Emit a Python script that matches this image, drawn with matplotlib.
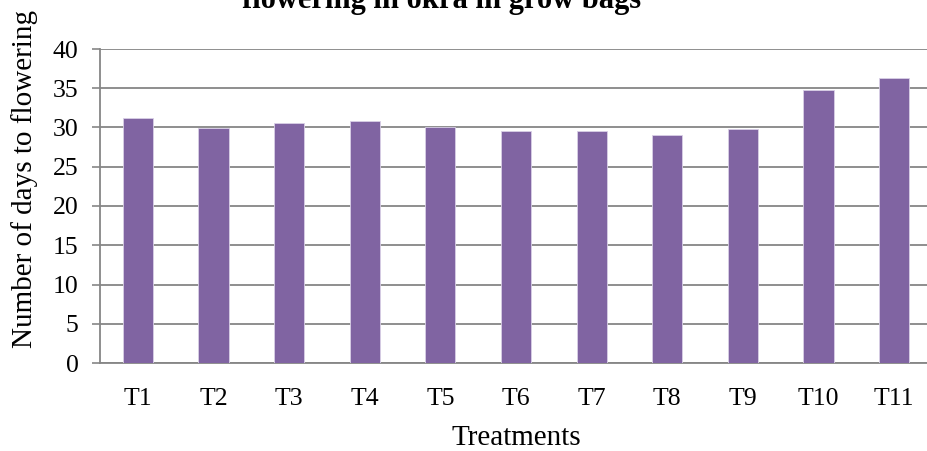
import numpy as np
import matplotlib
matplotlib.use("Agg")
import matplotlib.pyplot as plt

treatments = ["T1", "T2", "T3", "T4", "T5", "T6", "T7", "T8", "T9", "T10", "T11"]
days_to_flowering = [31.2, 29.9, 30.6, 30.8, 30.0, 29.5, 29.5, 29.1, 29.8, 34.8, 36.3]
y_ticks = [0, 5, 10, 15, 20, 25, 30, 35, 40]

plt.rcParams["font.family"] = ["Liberation Serif", "DejaVu Serif"]

W, H = 928, 451
fig = plt.figure(figsize=(W / 100, H / 100), dpi=100)
# plot area in pixels: left 100, right ~932 (clipped by the picture), top 49, bottom 363
ax = fig.add_axes([100 / W, (H - 363) / H, 832 / W, (363 - 49) / H])

x = np.arange(len(treatments))
ax.bar(x, days_to_flowering, width=0.4, color="#8064A2",
       edgecolor="#D9D0E6", linewidth=0.6, zorder=3)

ax.set_xlim(-0.5, len(treatments) - 0.5)
ax.set_ylim(0, 40)
ax.set_yticks(y_ticks)
ax.set_xticks(x)
ax.set_xticklabels(treatments, fontsize=18.5)
ax.tick_params(axis="y", labelsize=18.5, length=6, width=1.2, color="#868686", pad=9.5)
ax.tick_params(axis="x", length=0, pad=18)
ax.grid(True, axis="y", color="#868686", linewidth=1.3, zorder=0)

for side in ("top", "right"):
    ax.spines[side].set_visible(False)
for side in ("left", "bottom"):
    ax.spines[side].set_color("#868686")
    ax.spines[side].set_linewidth(1.3)

ax.set_xlabel("Treatments", fontsize=21, labelpad=10.5)
fig.text(25 / W, 1 - 179 / H, "Number of days to flowering", rotation=90,
         fontsize=21, ha="center", va="center")
fig.text(442 / W, 1 - 8 / H, "flowering in okra in grow bags", fontsize=22,
         fontweight="bold", ha="center", va="baseline")

fig.savefig("out.png", dpi=100, facecolor="white")
plt.close(fig)
